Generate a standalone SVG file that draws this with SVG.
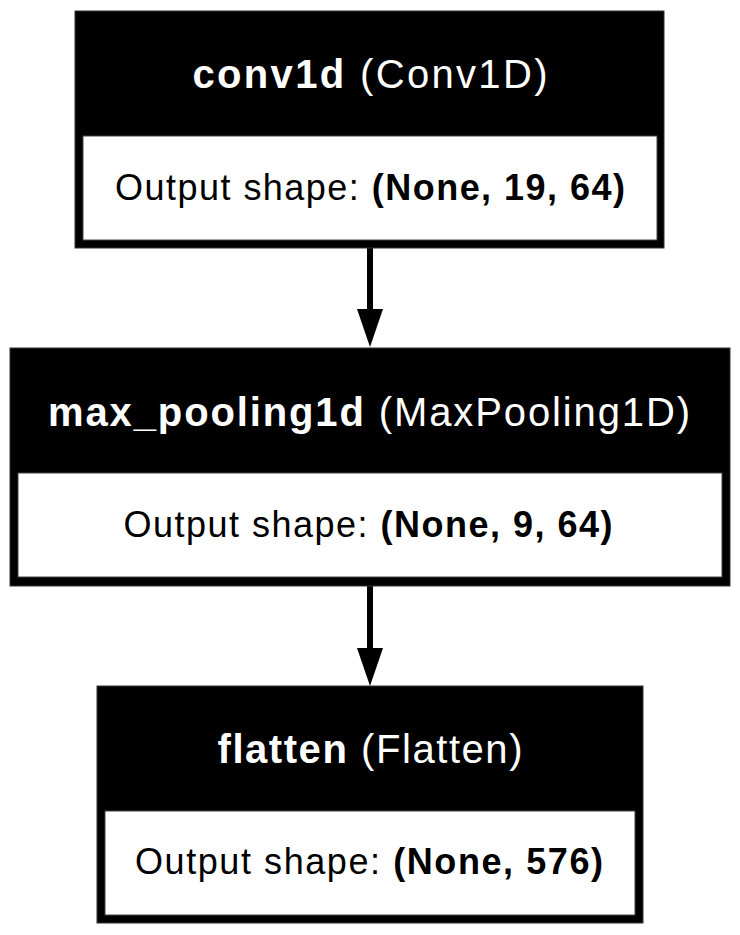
<svg xmlns="http://www.w3.org/2000/svg" width="740" height="935" viewBox="0 0 740 935">
<style>
.outer{fill:#000;stroke:#333;stroke-width:1}
.inner{fill:#fff;stroke:#444;stroke-width:1}
.title{font-family:"Liberation Sans",Arial,sans-serif;font-size:40px;fill:#fff}
.label{font-family:"Liberation Sans",Arial,sans-serif;font-size:36px;fill:#000}
.b{font-weight:bold}
.edge{stroke:#000;stroke-width:6;fill:none}
.head{fill:#000}
</style>
<rect width="740" height="935" fill="#fff"/>
<g id="connectors">
<line class="edge" x1="370" y1="248" x2="370" y2="312"/>
<polygon class="head" points="357,309 383,309 370,347"/>
<line class="edge" x1="370" y1="586" x2="370" y2="651"/>
<polygon class="head" points="357,648 383,648 370,686"/>
</g>
<g id="conv1d">
<rect class="outer" x="75" y="11" width="589" height="237"/>
<rect class="inner" x="83" y="136" width="574" height="104"/>
<text class="title" x="370" y="88" text-anchor="middle" textLength="355" lengthAdjust="spacing"><tspan class="b">conv1d</tspan> (Conv1D)</text>
<text class="label" x="370" y="200" text-anchor="middle" textLength="510" lengthAdjust="spacing">Output shape: <tspan class="b">(None, 19, 64)</tspan></text>
</g>
<g id="max_pooling1d">
<rect class="outer" x="10" y="348" width="720" height="238"/>
<rect class="inner" x="18" y="473" width="704" height="104"/>
<text class="title" x="369" y="426" text-anchor="middle" textLength="642" lengthAdjust="spacing"><tspan class="b">max_pooling1d</tspan> (MaxPooling1D)</text>
<text class="label" x="368" y="537" text-anchor="middle" textLength="489" lengthAdjust="spacing">Output shape: <tspan class="b">(None, 9, 64)</tspan></text>
</g>
<g id="flatten">
<rect class="outer" x="97" y="686" width="546" height="237"/>
<rect class="inner" x="105" y="811" width="530" height="104"/>
<text class="title" x="370" y="763" text-anchor="middle" textLength="305" lengthAdjust="spacing"><tspan class="b">flatten</tspan> (Flatten)</text>
<text class="label" x="369" y="874" text-anchor="middle" textLength="468" lengthAdjust="spacing">Output shape: <tspan class="b">(None, 576)</tspan></text>
</g>
</svg>
